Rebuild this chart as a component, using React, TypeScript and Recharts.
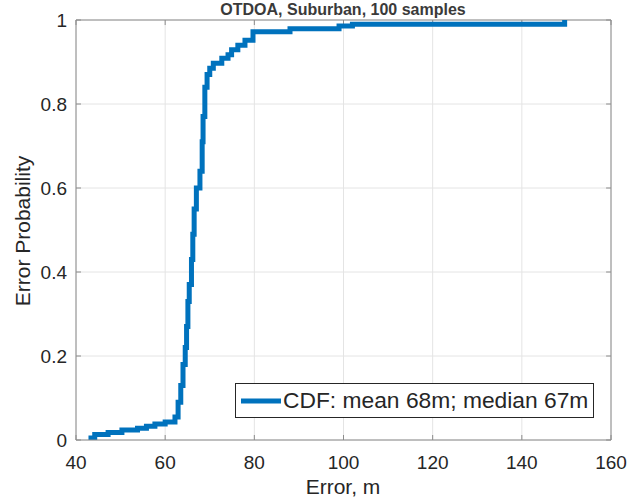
import React from "react";
import { LineChart, Line, XAxis, YAxis, CartesianGrid, Legend, Label, ReferenceLine } from "recharts";

// empirical CDF of the position error: step locations (m) and cumulative probability
const errorMeters = [
  42.8, 44.2, 47.2, 50.3, 53.8, 55.8, 57.7, 60.0, 62.2, 62.9,
  63.5, 64.0, 64.5, 64.8, 65.1, 65.4, 65.9, 66.2, 66.5, 67.0,
  67.8, 68.3, 68.5, 68.9, 69.4, 70.0, 70.8, 72.7, 74.1, 74.9,
  76.3, 77.9, 79.7, 88.0, 99.0, 102.0, 149.6,
];
const cdfProbability = [
  0.005, 0.013, 0.018, 0.024, 0.028, 0.033, 0.038, 0.043, 0.055, 0.09,
  0.13, 0.18, 0.22, 0.27, 0.33, 0.37, 0.43, 0.49, 0.55, 0.6,
  0.64, 0.71, 0.77, 0.84, 0.87, 0.885, 0.897, 0.909, 0.917, 0.929,
  0.94, 0.952, 0.972, 0.979, 0.986, 0.99, 1.0,
];

const xTicks = [40, 60, 80, 100, 120, 140, 160];
const yTicks = [0, 0.2, 0.4, 0.6, 0.8, 1];

const chartTitle = "OTDOA, Suburban, 100 samples";
const seriesName = "CDF: mean 68m; median 67m";
const xLabel = "Error, m";
const yLabel = "Error Probability";

const chartData = errorMeters.map((error, i) => ({ error, cdf: cdfProbability[i] }));

const FONT = "'Liberation Sans', Arial, Helvetica, sans-serif";
const TEXT = "#262626";
const AXIS = "#8c8c8c";
const BLUE = "#0072bd";

// tick length in data units for the top / right edges of the box (~5px)
const TICK_X = 1.1;
const TICK_Y = 0.012;

// matlab style: ticks point into the plot box
const BottomTick = ({ x, y, payload }: any) => (
  <g>
    <line x1={x} y1={y} x2={x} y2={y - 5} stroke={AXIS} />
    <text x={x} y={y + 29} textAnchor="middle" fill={TEXT} fontSize={19} fontFamily={FONT}>
      {payload.value}
    </text>
  </g>
);

const LeftTick = ({ x, y, payload }: any) => (
  <g>
    <line x1={x} y1={y} x2={x + 5} y2={y} stroke={AXIS} />
    <text x={x - 9} y={y + 7} textAnchor="end" fill={TEXT} fontSize={19} fontFamily={FONT}>
      {payload.value}
    </text>
  </g>
);

const LegendBox = ({ payload }: any) => {
  const item = payload && payload[0];
  return (
    <div
      style={{
        display: "flex",
        alignItems: "center",
        height: 35,
        boxSizing: "border-box",
        border: "1px solid #262626",
        background: "#fff",
        padding: "0 5px",
      }}
    >
      <svg width={40} height={10}>
        <line x1={0} y1={5} x2={40} y2={5} stroke={BLUE} strokeWidth={5} />
      </svg>
      <span style={{ marginLeft: 2, fontSize: 22.8, fontFamily: FONT, color: TEXT, whiteSpace: "nowrap" }}>
        {item ? item.value : seriesName}
      </span>
    </div>
  );
};

export default function App() {
  return (
    <div style={{ position: "absolute", left: 0, top: 0, background: "#fff" }}>
      <LineChart width={641} height={500} data={chartData} margin={{ top: 20, right: 30, left: 0, bottom: 0 }}>
        <CartesianGrid stroke="#e4e4e4" />
        <XAxis
          dataKey="error"
          type="number"
          domain={[40, 160]}
          ticks={xTicks}
          allowDataOverflow
          height={60}
          tickSize={0}
          tickMargin={0}
          tickLine={false}
          axisLine={{ stroke: AXIS }}
          tick={<BottomTick />}
        >
          <Label
            content={() => (
              <g fill={TEXT} fontFamily={FONT} textAnchor="middle">
                <text x={343} y={494} fontSize={21}>{xLabel}</text>
                <text x={343} y={15} fontSize={16} fontWeight="bold" fill="#3a3a3a">{chartTitle}</text>
              </g>
            )}
          />
        </XAxis>
        <YAxis
          type="number"
          domain={[0, 1]}
          ticks={yTicks}
          allowDataOverflow
          width={76}
          tickSize={0}
          tickMargin={0}
          tickLine={false}
          axisLine={{ stroke: AXIS }}
          tick={<LeftTick />}
        >
          <Label
            content={() => (
              <text
                transform="translate(30,231) rotate(-90)"
                textAnchor="middle"
                fill={TEXT}
                fontSize={21}
                fontFamily={FONT}
              >
                {yLabel}
              </text>
            )}
          />
        </YAxis>
        {/* top and right edges of the axes box, with inward ticks */}
        <ReferenceLine y={1} stroke={AXIS} />
        <ReferenceLine x={160} stroke={AXIS} />
        {xTicks.map((t) => (
          <ReferenceLine key={"tx" + t} segment={[{ x: t, y: 1 }, { x: t, y: 1 - TICK_Y }]} stroke={AXIS} />
        ))}
        {yTicks.map((t) => (
          <ReferenceLine key={"ty" + t} segment={[{ x: 160, y: t }, { x: 160 - TICK_X, y: t }]} stroke={AXIS} />
        ))}
        <Legend
          layout="horizontal"
          verticalAlign="middle"
          align="center"
          wrapperStyle={{ left: 235, top: 383, width: "auto", height: "auto" }}
          content={<LegendBox />}
        />
        <Line
          type="stepAfter"
          dataKey="cdf"
          name={seriesName}
          stroke={BLUE}
          strokeWidth={5}
          dot={false}
          activeDot={false}
          isAnimationActive={false}
        />
      </LineChart>
    </div>
  );
}
